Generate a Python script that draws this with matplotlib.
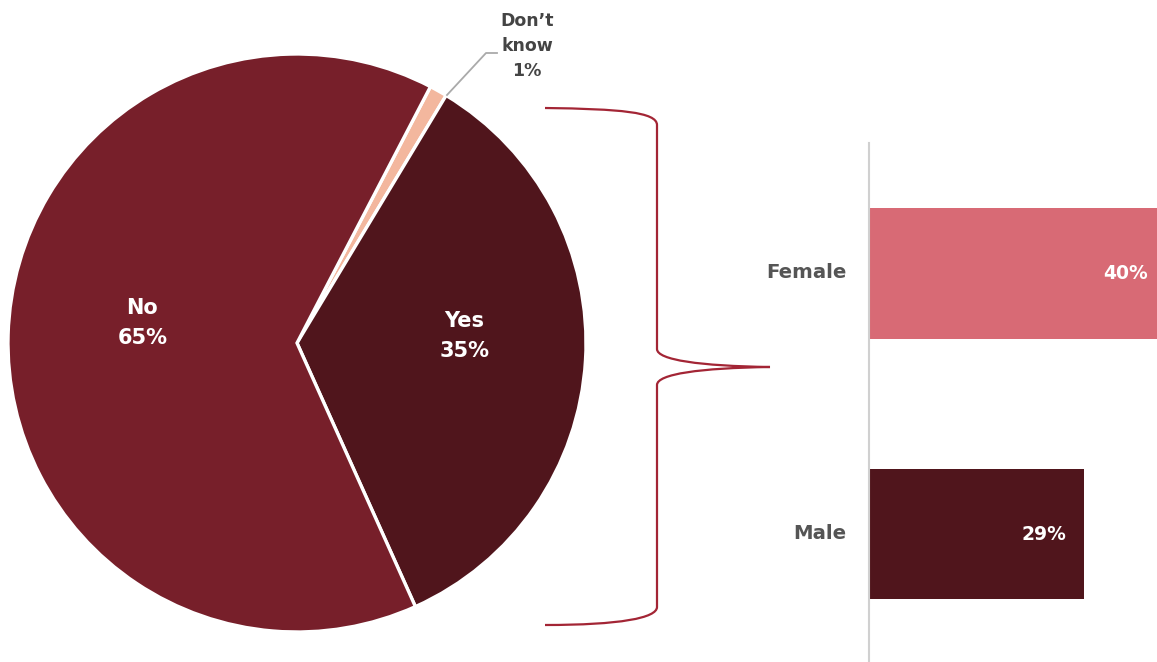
import matplotlib
matplotlib.use("Agg")
import matplotlib.pyplot as plt
import matplotlib.transforms as mtransforms
from matplotlib.path import Path
from matplotlib.patches import PathPatch

plt.rcParams['font.family'] = ['DejaVu Sans']

# Overall answer split
pie_labels = ["Don\u2019t know", "Yes", "No"]
pie_values = [1, 35, 65]
pie_colors = ["#F3B79E", "#50151C", "#771F2A"]

# Share answering "Yes", by gender
bar_labels = ["Male", "Female"]
bar_values = [29, 40]
bar_colors = ["#50151C", "#D86A75"]

W, H = 1157, 662
fig = plt.figure(figsize=(W / 100, H / 100), dpi=100)


def px(x, y):
    """Top-left pixel coordinates -> figure fraction."""
    return x / W, 1 - y / H


# ---- pie ----
cx, cy, r = 297, 343, 289
ax_pie = fig.add_axes([(cx - r) / W, (H - cy - r) / H, 2 * r / W, 2 * r / H])
wedges, _ = ax_pie.pie(pie_values, colors=pie_colors, startangle=62.5, counterclock=False,
                       radius=1, wedgeprops=dict(edgecolor="white", linewidth=2.4))
ax_pie.set_xlim(-1, 1)
ax_pie.set_ylim(-1, 1)
ax_pie.set_aspect("equal")
ax_pie.axis("off")

ax_pie.text(-0.535, 0.07, f"No\n{pie_values[2]}%", color="white", fontsize=15,
            fontweight="bold", ha="center", va="center", linespacing=1.6)
ax_pie.text(0.58, 0.025, f"Yes\n{pie_values[1]}%", color="white", fontsize=15,
            fontweight="bold", ha="center", va="center", linespacing=1.6)

# "Don't know" callout with leader line
fig.add_artist(plt.Line2D([447 / W, 486 / W, 497 / W], [1 - 95 / H, 1 - 53 / H, 1 - 53 / H],
                          color="#AAAAAA", linewidth=1.3))
fig.text(*px(527, 46), f"Don\u2019t\nknow\n{pie_values[0]}%", color="#444444", fontsize=12.5,
         fontweight="bold", ha="center", va="center", linespacing=1.5)

# ---- curly brace linking "Yes" to the breakdown ----
verts = [
    px(545, 108), px(620, 109), px(657, 112), px(657, 125),
    px(657, 349),
    px(657, 360), px(700, 366), px(770, 367),
    px(700, 368), px(657, 374), px(657, 385),
    px(657, 607),
    px(657, 618), px(620, 625), px(545, 625),
]
codes = [Path.MOVETO, Path.CURVE4, Path.CURVE4, Path.CURVE4,
         Path.LINETO,
         Path.CURVE4, Path.CURVE4, Path.CURVE4,
         Path.CURVE4, Path.CURVE4, Path.CURVE4,
         Path.LINETO,
         Path.CURVE4, Path.CURVE4, Path.CURVE4]
fig.add_artist(PathPatch(Path(verts, codes), transform=fig.transFigure,
                         facecolor="none", edgecolor="#A32535", linewidth=1.6))

# ---- bars ----
xmax = 38.9
ax_bar = fig.add_axes([869 / W, 0, (W - 869) / W, (H - 143) / H])
ypos = list(range(len(bar_labels)))
ax_bar.barh(ypos, bar_values, height=0.5, color=bar_colors)
ax_bar.set_xlim(0, xmax)
ax_bar.set_ylim(-0.49, 1.5)
for s in ["top", "right", "bottom"]:
    ax_bar.spines[s].set_visible(False)
ax_bar.spines["left"].set_color("#D0D0D0")
ax_bar.spines["left"].set_linewidth(1.5)
ax_bar.set_xticks([])
ax_bar.set_yticks(ypos)
ax_bar.set_yticklabels(bar_labels, fontsize=14.2, fontweight="bold", color="#555555")
ax_bar.tick_params(axis="y", length=0, pad=16)
nudge_up = mtransforms.ScaledTranslation(0, 3 / 100, fig.dpi_scale_trans)
for lbl in ax_bar.get_yticklabels():
    lbl.set_transform(lbl.get_transform() + nudge_up)
for y, v in zip(ypos, bar_values):
    ax_bar.text(v - 2.3, y, f"{v}%", color="white", fontsize=13.5,
                fontweight="bold", ha="right", va="center")

fig.savefig("out.png", dpi=100)
